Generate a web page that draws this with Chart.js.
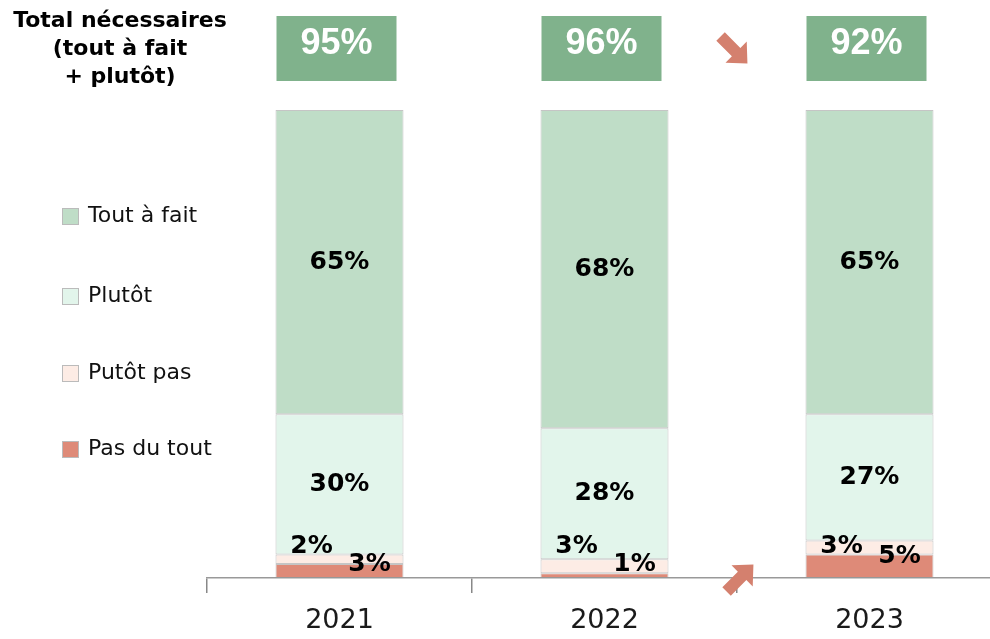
<!DOCTYPE html>
<html lang="fr">
<head>
  <meta charset="UTF-8">
  <title>Total nécessaires</title>
  <script src="https://cdn.jsdelivr.net/npm/chart.js"></script>
  <style>
    body {
      margin: 0;
      background: #ffffff;
      overflow: hidden;
    }
    .chart-box {
      width: 1010px;
      height: 639px;
    }
  </style>
</head>
<body>
  <div class="chart-box">
    <canvas id="barChart" width="1010" height="639"></canvas>
  </div>

  <script>
    // Données (en %)
    const years = ['2021', '2022', '2023'];
    const pasDuTout = [3, 1, 5];
    const plutotPas = [2, 3, 3];
    const plutot = [30, 28, 27];
    const toutAFait = [65, 68, 65];

    const seriesLabels = ['Pas du tout', 'Putôt pas', 'Plutôt', 'Tout à fait'];
    const seriesColors = ['#DE8A78', '#FDECE5', '#E2F5EB', '#BFDDC7'];

    const FONT = "'DejaVu Sans', sans-serif";

    // Étiquettes de valeurs dans les barres
    const valueLabels = {
      id: 'valueLabels',
      afterDatasetsDraw(chart) {
        const ctx = chart.ctx;
        const bottom = chart.chartArea.bottom;
        ctx.save();
        ctx.fillStyle = '#000';
        ctx.font = 'bold 25px ' + FONT;
        ctx.textAlign = 'center';
        ctx.textBaseline = 'middle';
        chart.data.datasets.forEach((ds, d) => {
          const meta = chart.getDatasetMeta(d);
          meta.data.forEach((el, i) => {
            const txt = ds.data[i] + '%';
            if (d === 0) {
              // Pas du tout : à droite, près de l'axe
              ctx.fillText(txt, el.x + 30, Math.min(el.y + 2, bottom - 14));
            } else if (d === 1) {
              // Plutôt pas : à gauche, au-dessus
              ctx.fillText(txt, el.x - 28, bottom - 32);
            } else {
              ctx.fillText(txt, el.x, (el.y + el.base) / 2);
            }
          });
        });
        ctx.restore();
      }
    };

    // Titre, totaux, légende et flèches
    const decorations = {
      id: 'decorations',
      afterDraw(chart) {
        const ctx = chart.ctx;
        const x = chart.scales.x;
        ctx.save();

        // Titre à gauche
        ctx.fillStyle = '#000';
        ctx.font = 'bold 22px ' + FONT;
        ctx.textAlign = 'center';
        ctx.textBaseline = 'middle';
        ['Total nécessaires', '(tout à fait', '+ plutôt)'].forEach((line, k) => {
          ctx.fillText(line, 120, 21 + k * 28);
        });

        // Totaux (tout à fait + plutôt)
        years.forEach((y, i) => {
          const cx = x.getPixelForValue(i) - 3;
          ctx.fillStyle = '#80B28C';
          ctx.fillRect(cx - 60, 16, 120, 65);
          ctx.fillStyle = '#ffffff';
          ctx.font = 'bold 36px "Liberation Sans", Arial, sans-serif';
          ctx.fillText((toutAFait[i] + plutot[i]) + '%', cx, 44);
        });

        // Légende
        ctx.textAlign = 'left';
        ctx.font = '22px ' + FONT;
        const legendY = [449, 373, 296, 216];
        seriesLabels.forEach((lab, k) => {
          ctx.fillStyle = seriesColors[k];
          ctx.fillRect(62, legendY[k] - 8, 17, 17);
          ctx.strokeStyle = '#bbbbbb';
          ctx.lineWidth = 1;
          ctx.strokeRect(62.5, legendY[k] - 7.5, 16, 16);
          ctx.fillStyle = '#111';
          ctx.fillText(lab, 88, legendY[k]);
        });

        // Flèches d'évolution
        const mid = (x.getPixelForValue(1) + x.getPixelForValue(2)) / 2;
        drawArrow(ctx, mid - 3, 50, Math.PI / 4);
        drawArrow(ctx, mid + 3, 578, -Math.PI / 4);

        ctx.restore();
      }
    };

    function drawArrow(ctx, cx, cy, angle) {
      ctx.save();
      ctx.translate(cx, cy);
      ctx.rotate(angle);
      ctx.fillStyle = '#D4806E';
      ctx.beginPath();
      ctx.moveTo(-19, -6);
      ctx.lineTo(3, -6);
      ctx.lineTo(3, -15);
      ctx.lineTo(19, 0);
      ctx.lineTo(3, 15);
      ctx.lineTo(3, 6);
      ctx.lineTo(-19, 6);
      ctx.closePath();
      ctx.fill();
      ctx.restore();
    }

    const ctx1 = document.getElementById('barChart').getContext('2d');
    const barChart = new Chart(ctx1, {
      type: 'bar',
      data: {
        labels: years,
        datasets: [pasDuTout, plutotPas, plutot, toutAFait].map((values, k) => ({
          label: seriesLabels[k],
          data: values,
          backgroundColor: seriesColors[k],
          borderColor: 'rgba(150, 150, 150, 0.55)',
          borderWidth: 1,
          borderSkipped: false,
          categoryPercentage: 0.483,
          barPercentage: 1
        }))
      },
      options: {
        responsive: false,
        animation: false,
        layout: {
          padding: { left: 207, right: 8, top: 110, bottom: 0 }
        },
        plugins: {
          legend: { display: false },
          tooltip: { enabled: false }
        },
        scales: {
          x: {
            stacked: true,
            afterFit: (scale) => { scale.height = 61; },
            grid: {
              offset: true,
              drawOnChartArea: false,
              tickLength: 15,
              color: '#888888',
              lineWidth: 1.5
            },
            border: { display: true, color: '#999999', width: 1.5 },
            ticks: {
              color: '#1a1a1a',
              padding: 12,
              font: { family: FONT, size: 27 }
            }
          },
          y: {
            stacked: true,
            display: false,
            min: 0,
            max: 100
          }
        }
      },
      plugins: [valueLabels, decorations]
    });
  </script>
</body>
</html>
